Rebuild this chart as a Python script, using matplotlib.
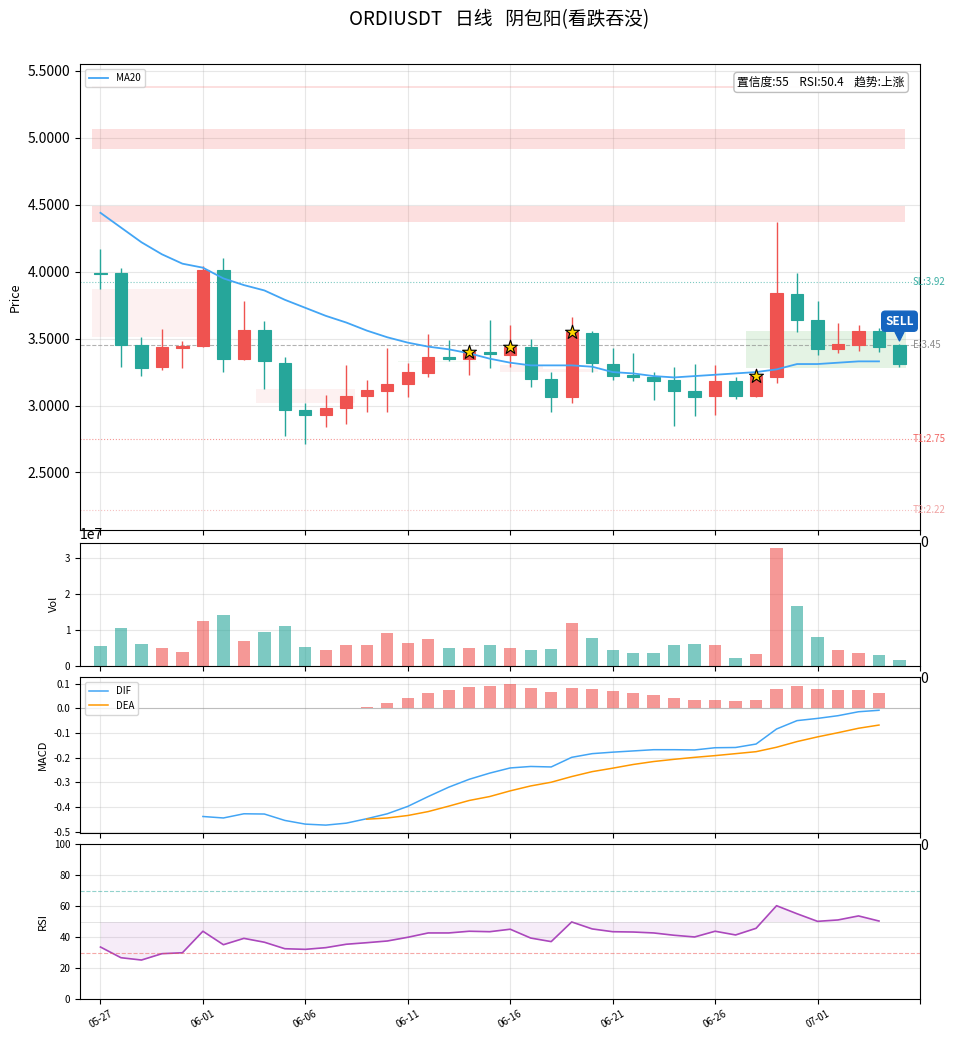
import numpy as np
import pandas as pd
import matplotlib
matplotlib.use('Agg')
import matplotlib.pyplot as plt
from matplotlib.patches import Rectangle

plt.rcParams['font.family'] = ['Noto Sans CJK SC', 'DejaVu Sans']
plt.rcParams['axes.unicode_minus'] = False

symbol = 'ORDIUSDT'
dates = pd.date_range('2025-05-27', periods=40, freq='D')
date_labels = [d.strftime('%m-%d') for d in dates]

opens = [3.99, 3.99, 3.45, 3.285, 3.43, 3.445, 4.01, 3.35, 3.565, 3.32,
         2.97, 2.93, 2.98, 3.07, 3.11, 3.16, 3.245, 3.36, 3.35, 3.40,
         3.38, 3.435, 3.20, 3.06, 3.54, 3.31, 3.23, 3.21, 3.19, 3.11,
         3.07, 3.18, 3.07, 3.21, 3.83, 3.64, 3.42, 3.45, 3.56, 3.45]
closes = [3.985, 3.45, 3.28, 3.435, 3.445, 4.01, 3.35, 3.565, 3.33, 2.97,
          2.93, 2.98, 3.07, 3.115, 3.16, 3.25, 3.36, 3.35, 3.40, 3.385,
          3.435, 3.20, 3.06, 3.55, 3.32, 3.22, 3.21, 3.18, 3.11, 3.06,
          3.18, 3.07, 3.22, 3.84, 3.64, 3.42, 3.46, 3.56, 3.44, 3.31]
highs = [4.17, 4.025, 3.515, 3.57, 3.48, 4.04, 4.10, 3.78, 3.63, 3.36,
         3.02, 3.08, 3.30, 3.19, 3.43, 3.32, 3.535, 3.49, 3.445, 3.64,
         3.60, 3.50, 3.25, 3.66, 3.555, 3.43, 3.39, 3.25, 3.29, 3.31,
         3.30, 3.21, 3.27, 4.37, 3.99, 3.78, 3.62, 3.60, 3.58, 3.46]
lows = [3.87, 3.29, 3.22, 3.265, 3.28, 3.44, 3.25, 3.34, 3.12, 2.77,
        2.71, 2.84, 2.86, 2.95, 2.95, 3.06, 3.21, 3.33, 3.23, 3.28,
        3.29, 3.135, 2.95, 3.02, 3.25, 3.19, 3.18, 3.04, 2.85, 2.92,
        2.93, 3.05, 3.06, 3.17, 3.55, 3.38, 3.39, 3.41, 3.40, 3.29]
volumes = [5.56e6, 1.056e7, 6.1e6, 5.0e6, 3.9e6, 1.25e7, 1.42e7, 6.9e6, 9.4e6, 1.11e7,
           5.3e6, 4.4e6, 5.8e6, 5.8e6, 9.2e6, 6.4e6, 7.5e6, 5.0e6, 5.0e6, 5.8e6,
           5.0e6, 4.4e6, 4.7e6, 1.19e7, 7.8e6, 4.4e6, 3.6e6, 3.6e6, 5.8e6, 6.1e6,
           5.8e6, 2.2e6, 3.3e6, 3.28e7, 1.67e7, 8.1e6, 4.4e6, 3.6e6, 3.1e6, 1.7e6]
ma20 = [4.44, 4.33, 4.22, 4.13, 4.06, 4.03, 3.95, 3.90, 3.86, 3.79,
        3.73, 3.67, 3.62, 3.56, 3.51, 3.47, 3.44, 3.42, 3.39, 3.35,
        3.32, 3.30, 3.30, 3.30, 3.29, 3.25, 3.24, 3.22, 3.21, 3.22,
        3.23, 3.24, 3.25, 3.27, 3.31, 3.31, 3.32, 3.33, 3.33]
dif = [np.nan] * 5 + [-0.439, -0.445, -0.428, -0.429, -0.455, -0.470, -0.474, -0.466, -0.448,
                      -0.428, -0.398, -0.358, -0.320, -0.288, -0.263, -0.242, -0.236, -0.238,
                      -0.199, -0.184, -0.178, -0.173, -0.168, -0.168, -0.169, -0.160, -0.159,
                      -0.145, -0.084, -0.050, -0.041, -0.030, -0.014, -0.008]
dea = [np.nan] * 13 + [-0.450, -0.445, -0.435, -0.419, -0.397, -0.374, -0.358, -0.335, -0.315,
                       -0.300, -0.277, -0.257, -0.243, -0.228, -0.216, -0.207, -0.199, -0.192,
                       -0.184, -0.176, -0.158, -0.135, -0.116, -0.099, -0.081, -0.068]
macd_hist = [np.nan] * 13 + [0.005, 0.021, 0.042, 0.062, 0.074, 0.086, 0.090, 0.098, 0.082,
                             0.066, 0.082, 0.078, 0.070, 0.062, 0.054, 0.042, 0.034, 0.034,
                             0.030, 0.034, 0.078, 0.090, 0.078, 0.074, 0.074, 0.062]
rsi = [33.6, 26.7, 25.2, 29.3, 29.9, 43.8, 35.1, 39.2, 36.7, 32.5,
       32.1, 33.2, 35.4, 36.4, 37.5, 39.9, 42.7, 42.7, 43.8, 43.5,
       45.1, 39.4, 37.1, 49.8, 45.3, 43.5, 43.3, 42.7, 41.2, 40.1,
       43.8, 41.4, 45.7, 60.3, 55.1, 50.2, 51.1, 53.7, 50.4]

star_idx = [18, 20, 23, 32]
resist_zones = [(5.37, 5.39), (4.92, 5.07), (4.37, 4.49)]
weak_zones = [(-0.4, 4.7, 3.51, 3.87, '#ef5350'), (7.6, 12.4, 3.02, 3.12, '#ef5350'),
              (14.5, 18.4, 3.322, 3.335, '#4caf50'), (19.5, 21.6, 3.25, 3.30, '#ef5350'),
              (21.6, 24.3, 3.25, 3.27, '#ef5350')]
entry_zone = (31.5, 39.3, 3.28, 3.56)
levels = [('SL', 3.92, '#26a69a', ':'), ('E', 3.45, 'gray', '--'),
          ('T1', 2.75, '#ef5350', ':'), ('T2', 2.22, '#ef9a9a', ':')]
confidence = 55
trend = '上涨'

up_c = '#ef5350'
dn_c = '#26a69a'

x = np.arange(len(opens))
cols = [up_c if c >= o else dn_c for o, c in zip(opens, closes)]

fig = plt.figure(figsize=(9.59, 10.40), dpi=100)
L, W = 0.0834, 0.8759
ax1 = fig.add_axes([L, 0.4904, W, 0.4478])
ax2 = fig.add_axes([L, 0.3596, W, 0.1186], sharex=ax1)
ax3 = fig.add_axes([L, 0.1988, W, 0.1500], sharex=ax1)
ax4 = fig.add_axes([L, 0.0394, W, 0.1488], sharex=ax1)

# price panel
for lo, hi in resist_zones:
    ax1.add_patch(Rectangle((-0.4, lo), 39.65, hi - lo, color=up_c, alpha=0.18, lw=0, zorder=1))
for x0, x1, lo, hi, c in weak_zones:
    ax1.add_patch(Rectangle((x0, lo), x1 - x0, hi - lo, color=c, alpha=0.08, lw=0, zorder=1))
ex0, ex1, elo, ehi = entry_zone
ax1.add_patch(Rectangle((ex0, elo), ex1 - ex0, ehi - elo, color='#4caf50', alpha=0.15, lw=0, zorder=1))

for name, val, c, ls in levels:
    ax1.axhline(val, color=c, ls=ls, lw=0.8, alpha=0.6, zorder=1)
    ax1.text(39.65, val, f'{name}:{val:.2f}', color=c, fontsize=7, va='center', ha='left',
             alpha=0.9, clip_on=False)

ax1.vlines(x, lows, highs, colors=cols, lw=1, zorder=3)
bodies = [max(abs(c - o), 0.008) for o, c in zip(opens, closes)]
ax1.bar(x, bodies, bottom=np.minimum(opens, closes), width=0.6, color=cols,
        edgecolor=cols, lw=0.8, zorder=4)
ax1.plot(np.arange(len(ma20)), ma20, color='#42a5f5', lw=1.3, label='MA20', zorder=5)

ax1.scatter(star_idx, [max(opens[i], closes[i]) for i in star_idx],
            marker='*', s=110, color='#FFD700', edgecolors='black', linewidths=0.8, zorder=6)

last = len(opens) - 1
ax1.scatter([last], [highs[last] + 0.06], marker='v', s=40, color='#1565c0', zorder=6)
ax1.text(last, highs[last] + 0.17, 'SELL', color='white', fontsize=8.5, fontweight='bold',
         ha='center', va='center', zorder=7,
         bbox=dict(boxstyle='round,pad=0.3', fc='#1565c0', ec='#1565c0'))

ax1.text(0.982, 0.975, f'置信度:{confidence}    RSI:{rsi[-1]:.1f}    趋势:{trend}',
         transform=ax1.transAxes, ha='right', va='top', fontsize=8.5, zorder=8,
         bbox=dict(boxstyle='round,pad=0.3', fc='white', ec='#bbbbbb', alpha=0.95))
ax1.legend(loc='upper left', fontsize=7)
ax1.set_ylim(2.07, 5.55)
ax1.set_yticks([2.5, 3.0, 3.5, 4.0, 4.5, 5.0, 5.5])
ax1.yaxis.set_major_formatter(matplotlib.ticker.FormatStrFormatter('%.4f'))
ax1.tick_params(axis='y', labelsize=10)
ax1.set_ylabel('Price', fontsize=9)

# volume panel
ax2.bar(x, volumes, width=0.6, color=cols, alpha=0.6)
ax2.set_ylim(0, 3.42e7)
ax2.set_yticks([0, 1e7, 2e7, 3e7])
ax2.tick_params(axis='y', labelsize=7)
ax2.set_ylabel('Vol', fontsize=8)

# macd panel
hcols = [up_c if (not np.isnan(h) and h >= 0) else dn_c for h in macd_hist]
ax3.bar(x[:len(macd_hist)], macd_hist, width=0.6, color=hcols, alpha=0.6)
ax3.plot(np.arange(len(dif)), dif, color='#42a5f5', lw=1.1, label='DIF')
ax3.plot(np.arange(len(dea)), dea, color='#ff9800', lw=1.1, label='DEA')
ax3.axhline(0, color='gray', lw=0.8, alpha=0.4)
ax3.set_ylim(-0.507, 0.126)
ax3.set_yticks([-0.5, -0.4, -0.3, -0.2, -0.1, 0.0, 0.1])
ax3.tick_params(axis='y', labelsize=7)
ax3.set_ylabel('MACD', fontsize=8)
ax3.legend(loc='upper left', fontsize=7)

# rsi panel
xr = np.arange(len(rsi))
ax4.plot(xr, rsi, color='#ab47bc', lw=1.2)
ax4.fill_between(xr, rsi, 50, color='#ab47bc', alpha=0.1, lw=0)
ax4.axhline(70, color='#26a69a', ls='--', lw=0.8, alpha=0.5)
ax4.axhline(30, color='#ef5350', ls='--', lw=0.8, alpha=0.5)
ax4.axhline(50, color='gray', lw=0.6, alpha=0.25)
ax4.set_ylim(0, 100)
ax4.set_yticks([0, 20, 40, 60, 80, 100])
ax4.tick_params(axis='y', labelsize=7)
ax4.set_ylabel('RSI', fontsize=8)

ticks = list(range(0, 41, 5))
ax4.set_xlim(-1, 40)
ax4.set_xticks(ticks)
ax4.set_xticklabels([date_labels[t] if t < len(date_labels) else '' for t in ticks],
                    rotation=30, fontsize=7)
for ax in (ax1, ax2, ax3):
    plt.setp(ax.get_xticklabels(), visible=False)
    ax.text(1.0, -0.012 * 0.4478 / ax.get_position().height, '0', transform=ax.transAxes,
            ha='left', va='top', fontsize=10, clip_on=False)
for ax in (ax1, ax2, ax3, ax4):
    ax.grid(True, alpha=0.3)
    ax.set_axisbelow(True)

fig.text(0.52, 0.981, f'{symbol}   日线   阴包阳(看跌吞没)', ha='center', va='center', fontsize=13.5)

fig.savefig('out.png', dpi=100)
